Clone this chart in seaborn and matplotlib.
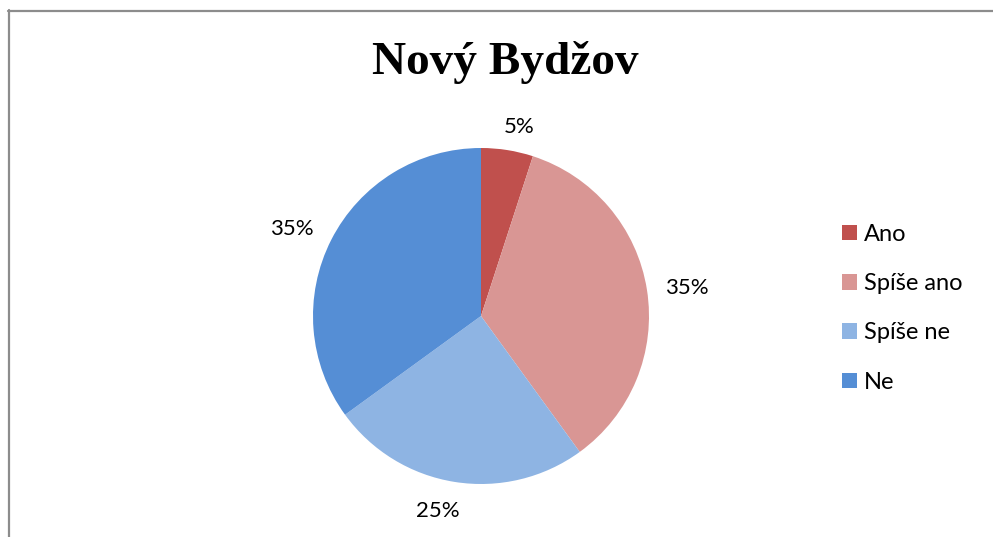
import matplotlib
matplotlib.use("Agg")
import matplotlib.pyplot as plt
import seaborn as sns
from matplotlib.lines import Line2D
from matplotlib.patches import Patch

categories = ["Ano", "Spíše ano", "Spíše ne", "Ne"]
values = [5, 35, 25, 35]
colors = ["#C0504D", "#D99694", "#8EB4E3", "#558ED5"]
title = "Nový Bydžov"
# label placement (data-label anchor, in units of pie radius)
label_pos = [(0.226, 1.125), (1.226, 0.167), (-0.256, -1.161), (-1.125, 0.518)]

sns.set_theme(style="white")
plt.rcParams["font.family"] = ["Lato", "DejaVu Sans"]
plt.rcParams["text.color"] = "black"

W, H = 993, 537
fig = plt.figure(figsize=(W / 100, H / 100), dpi=100)
fig.patch.set_facecolor("white")

cx, cy, r = 481, 316, 168
ax = fig.add_axes([(cx - r) / W, (H - cy - r) / H, 2 * r / W, 2 * r / H])
wedges, texts, autotexts = ax.pie(
    values, colors=colors, startangle=90, counterclock=False,
    autopct=lambda p: f"{p:.0f}%", pctdistance=1.2,
    wedgeprops=dict(linewidth=0),
    textprops=dict(fontsize=16, color="black"),
)
for t, (x, y) in zip(autotexts, label_pos):
    t.set_position((x, y))
ax.set_aspect("equal")
ax.set_xlim(-1, 1)
ax.set_ylim(-1, 1)
ax.axis("off")

fig.text(505 / W, 1 - 62 / H, title, ha="center", va="center", color="black",
         fontsize=34, fontweight="bold", family="Liberation Serif")

handles = [Patch(facecolor=c, edgecolor="none") for c in colors]
leg = fig.legend(handles, categories, loc="upper left",
                 bbox_to_anchor=(830 / W, 1 - 212 / H), frameon=False,
                 fontsize=17, handlelength=0.65, handleheight=0.65,
                 handletextpad=0.3, labelspacing=1.2, borderpad=0)
for t in leg.get_texts():
    t.set_color("black")

# chart area border (left and top visible)
fig.add_artist(Line2D([8.5 / W, 8.5 / W], [0, 1 - 10 / H], color="#8c8c8c", linewidth=1.6))
fig.add_artist(Line2D([8 / W, 1], [1 - 10.5 / H, 1 - 10.5 / H], color="#8c8c8c", linewidth=1.6))

fig.savefig("out.png", dpi=100, facecolor="white")
